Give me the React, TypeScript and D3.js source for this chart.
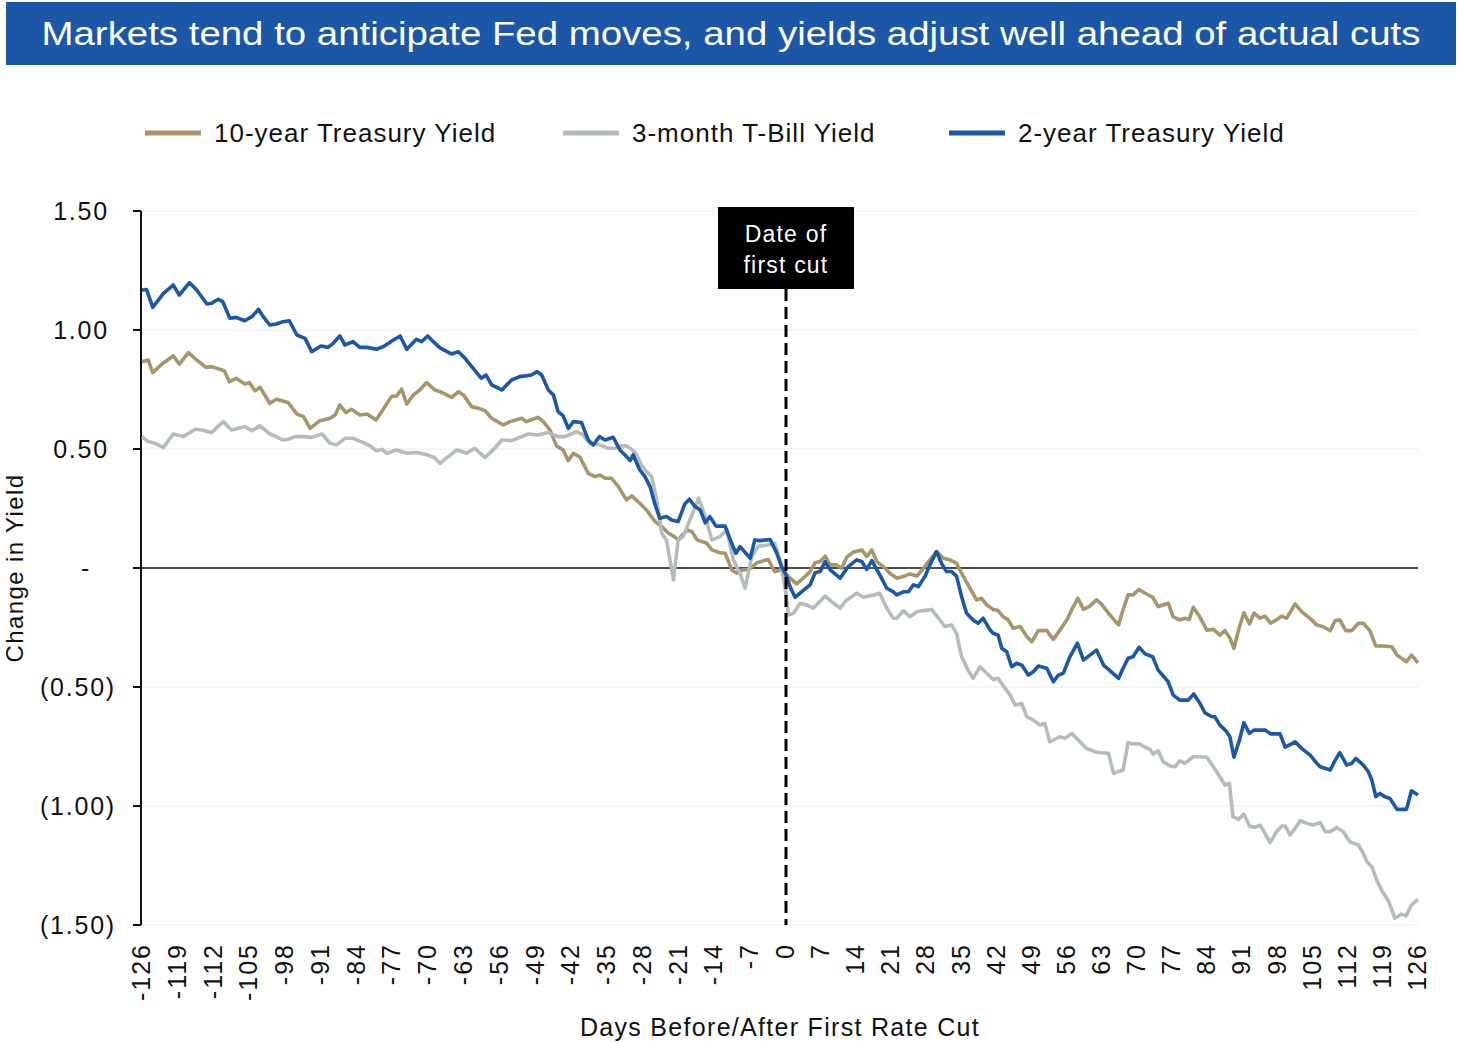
import React from "react";
import * as d3 from "d3";

const TITLE = "Markets tend to anticipate Fed moves, and yields adjust well ahead of actual cuts";
const SERIES_NAMES = ["10-year Treasury Yield", "3-month T-Bill Yield", "2-year Treasury Yield"];
const SERIES_COLORS = ["#A8956A", "#B4BDBC", "#1B58A7"];
const Y_TICKS = [1.5, 1.0, 0.5, 0, -0.5, -1.0, -1.5];
const Y_TICK_LABELS = ["1.50", "1.00", "0.50", "-", "(0.50)", "(1.00)", "(1.50)"];
const X_TICKS = d3.range(-126, 127, 7);

// [day, change in yield]
const tenYear: [number, number][] = [
  [-126,0.867],[-124.8,0.874],[-123.9,0.821],[-122.1,0.857],[-119.9,0.891],[-118.7,0.857],[-116.9,0.905],[-115.3,0.874],[-113.5,0.843],[-112.4,0.846],[-109.9,0.829],[-108.9,0.783],[-107.6,0.797],[-105.9,0.773],[-105,0.779],[-103.9,0.745],[-102.9,0.759],[-101,0.692],[-99.7,0.709],[-97.4,0.695],[-95.7,0.647],[-94.4,0.636],[-93.1,0.587],[-91.2,0.619],[-89.2,0.629],[-88.2,0.643],[-87.3,0.685],[-86.1,0.653],[-85,0.667],[-83.4,0.643],[-82,0.647],[-80.2,0.622],[-78.9,0.664],[-77.2,0.72],[-76.2,0.723],[-75.2,0.751],[-74.2,0.689],[-72.9,0.727],[-71.8,0.745],[-70.3,0.779],[-68.7,0.748],[-67.7,0.741],
  [-65.4,0.717],[-64.1,0.741],[-63.1,0.727],[-61.5,0.678],[-60.2,0.671],[-58.9,0.661],[-57.6,0.629],[-55.3,0.601],[-54,0.615],[-51.7,0.629],[-50.8,0.615],[-49.5,0.625],[-48.5,0.633],[-47.5,0.615],[-46.2,0.58],[-44.9,0.513],[-43.6,0.496],[-42.6,0.451],[-41.6,0.482],[-40.3,0.465],[-38.7,0.398],[-37.4,0.384],[-36.4,0.391],[-35.4,0.377],[-34.1,0.377],[-32.8,0.342],[-31.2,0.286],[-30.2,0.303],[-28.6,0.272],[-27.3,0.244],[-25.6,0.195],[-24.3,0.174],[-23,0.146],[-22,0.134],[-21.1,0.118],[-19.4,0.16],[-18.4,0.153],[-17.4,0.118],[-15.5,0.104],[-14.5,0.076],[-12.9,0.064],[-11.9,0.062],[-10.6,-0.008],[-9.6,-0.022],[-8.3,-0.006],[-7.3,-0.008],[-5.7,0.022],
  [-3.5,0.036],[-2.2,-0.015],[-0.85,-0.008],[0.5,-0.036],[2.1,-0.067],[3.4,-0.043],[4.8,-0.015],[5.8,0.022],[6.8,0.027],[7.8,0.05],[8.8,0.013],[10.1,0.013],[11.1,-0.001],[12.1,0.045],[13.4,0.066],[15.1,0.076],[16.1,0.048],[17.1,0.076],[18.1,0.027],[19.4,0.006],[20.7,-0.022],[22.1,-0.043],[23.4,-0.036],[24.7,-0.025],[26.1,-0.034],[27.4,-0.001],[28.7,0.034],[30,0.069],[31.4,0.041],[32.7,0.034],[34,0.02],[35,-0.022],[36.3,-0.071],[38,-0.134],[39,-0.127],[40,-0.155],[41.3,-0.174],[42.3,-0.179],[43.3,-0.205],[44.3,-0.218],[45.3,-0.253],[46.7,-0.246],[48,-0.288],[49,-0.31],[50.3,-0.263],[52,-0.263],[53.3,-0.3],[54.6,-0.261],[56,-0.218],[57,-0.174],[58.2,-0.127],[59.3,-0.174],[60.6,-0.16],[61.9,-0.134],[62.8,-0.15],
  [64.3,-0.19],[66.3,-0.239],[67.2,-0.176],[68.2,-0.113],[69.2,-0.113],[70.4,-0.09],[71.6,-0.106],[73.1,-0.123],[74.2,-0.162],[76.2,-0.148],[77.2,-0.205],[78.5,-0.218],[79.5,-0.211],[80.4,-0.216],[81.2,-0.165],[82.5,-0.205],[83.9,-0.261],[85.2,-0.258],[86.5,-0.282],[87.5,-0.263],[88.5,-0.295],[89.3,-0.337],[90.4,-0.247],[91.3,-0.188],[92.4,-0.235],[93.3,-0.19],[94.5,-0.211],[95.5,-0.202],[96.6,-0.232],[97.8,-0.218],[98.8,-0.202],[99.8,-0.211],[101.5,-0.151],[102.8,-0.183],[104.8,-0.218],[105.8,-0.239],[107.1,-0.247],[108.5,-0.263],[109.5,-0.221],[110.4,-0.218],[111.6,-0.263],[112.8,-0.263],[114.1,-0.232],[115.1,-0.232],[116.4,-0.263],[117.6,-0.328],[119.1,-0.328],[120.8,-0.331],[121.8,-0.366],[123.7,-0.394],[124.7,-0.366],[126,-0.398],
];

const threeMonth: [number, number][] = [
  [-126,0.552],[-124.8,0.531],[-123.5,0.524],[-121.8,0.507],[-119.9,0.563],[-117.9,0.552],[-115.6,0.583],[-114.3,0.58],[-112.4,0.569],[-110.1,0.615],[-108.5,0.58],[-105.9,0.594],[-104.5,0.577],[-102.9,0.597],[-101,0.563],[-99.7,0.552],[-98.5,0.538],[-97.4,0.541],[-96.1,0.552],[-94.4,0.552],[-92.8,0.549],[-90.8,0.563],[-89.2,0.524],[-87.9,0.517],[-86.3,0.545],[-84.7,0.545],[-82.7,0.527],[-81.4,0.513],[-80.1,0.493],[-79.1,0.499],[-78.1,0.482],[-76.2,0.496],[-74.2,0.482],[-72.3,0.485],[-70.3,0.476],[-68.9,0.465],
  [-67.7,0.44],[-66.1,0.468],[-64.4,0.496],[-62.5,0.482],[-60.9,0.503],[-58.9,0.465],[-57.3,0.496],[-55.6,0.538],[-53.7,0.535],[-51.7,0.552],[-50.4,0.563],[-48.5,0.559],[-46.5,0.569],[-44.6,0.552],[-43.3,0.552],[-42,0.563],[-41,0.573],[-39.7,0.559],[-38.4,0.524],[-36.4,0.517],[-34.8,0.503],[-33.5,0.503],[-32.2,0.513],[-31.2,0.513],[-30.2,0.499],[-29.2,0.475],[-28.3,0.433],[-27.3,0.405],[-26.3,0.384],[-25.3,0.286],[-24.3,0.146],[-23.4,0.118],[-22,-0.05],[-21.1,0.118],[-20.1,0.132],[-18.8,0.202],[-17.1,0.293],[-15.8,0.216],[-14.5,0.118],[-12.9,0.132],[-11.6,0.16],[-10.3,0.034],[-9,-0.022],[-8,-0.085],[-6.7,0.047],[-5.4,0.092],
  [-3.5,0.097],[-2.2,0.104],[-1.2,0.034],[-0.2,-0.078],[0.5,-0.197],[1.5,-0.19],[2.8,-0.148],[4.1,-0.155],[5.4,-0.169],[6.4,-0.148],[7.8,-0.118],[9.1,-0.141],[10.8,-0.169],[12.1,-0.134],[14.1,-0.106],[15.4,-0.123],[17.4,-0.113],[18.7,-0.106],[20.1,-0.169],[21.4,-0.211],[22.1,-0.211],[23.4,-0.179],[24.7,-0.205],[26.1,-0.184],[27.4,-0.179],[29,-0.174],[30.4,-0.211],[31.7,-0.246],[33,-0.239],[34,-0.274],[35,-0.373],[36.3,-0.429],[37.3,-0.464],[38.7,-0.415],[40,-0.442],[41.3,-0.468],[42.3,-0.464],[43.7,-0.506],[44.7,-0.534],[45.7,-0.576],[47,-0.569],[48,-0.625],[49.3,-0.639],[50.6,-0.66],[51.6,-0.653],[52.6,-0.73],[54.6,-0.709],[55.6,-0.716],[57,-0.695],[58.6,-0.73],[59.9,-0.758],[61.6,-0.772],
  [62.9,-0.776],[64.3,-0.779],[65.3,-0.863],[67.2,-0.849],[68.2,-0.734],[69.2,-0.739],[70.4,-0.739],[71.6,-0.753],[72.6,-0.762],[73.2,-0.782],[74.2,-0.768],[75.2,-0.814],[76.6,-0.832],[77.6,-0.835],[78.5,-0.81],[79.5,-0.821],[81.2,-0.793],[82.5,-0.793],[83.9,-0.795],[85.2,-0.835],[86.5,-0.877],[87.5,-0.912],[88.4,-0.905],[89.1,-1.045],[90.2,-1.056],[91.3,-1.034],[92.4,-1.084],[93.5,-1.09],[94.5,-1.08],[95.5,-1.115],[96.5,-1.154],[97.8,-1.108],[98.8,-1.084],[99.5,-1.084],[100.5,-1.122],[101.5,-1.094],[102.5,-1.062],[103.8,-1.073],[105.1,-1.08],[106.5,-1.07],[107.5,-1.108],[108.5,-1.108],[109.8,-1.09],[111.1,-1.108],[112.4,-1.15],[114.1,-1.164],[115.1,-1.199],[115.8,-1.234],[116.8,-1.255],[117.9,-1.318],[119.1,-1.367],[120.1,-1.398],[121.4,-1.472],[122.7,-1.454],[123.6,-1.462],[124.7,-1.416],[126,-1.392],
];

const twoYear: [number, number][] = [
  [-126,1.168],[-125.1,1.17],[-123.9,1.095],[-121.8,1.154],[-119.9,1.189],[-118.7,1.147],[-116.7,1.199],[-115.3,1.168],[-113.3,1.109],[-112.4,1.112],[-111.1,1.129],[-110.2,1.119],[-108.8,1.049],[-107.6,1.053],[-105.9,1.039],[-104.5,1.056],[-103.2,1.087],[-102.3,1.056],[-101,1.021],[-99.7,1.025],[-98.4,1.035],[-97.2,1.039],[-95.7,0.979],[-94.1,0.965],[-92.8,0.909],[-91,0.933],[-89.6,0.927],[-88.6,0.944],[-87.3,0.975],[-86.3,0.937],[-84.7,0.951],[-83.4,0.927],[-82,0.927],[-80.1,0.919],[-78.8,0.93],[-76.8,0.958],[-75.5,0.975],[-74.2,0.919],[-72.3,0.961],[-71.3,0.951],[-70.1,0.975],[-69,0.951],[-67.7,0.925],
  [-65.4,0.899],[-64.1,0.909],[-62.8,0.881],[-61.2,0.839],[-59.6,0.797],[-58.7,0.811],[-57.6,0.769],[-55.6,0.748],[-53.7,0.79],[-52.1,0.804],[-49.8,0.811],[-48.7,0.825],[-47.8,0.811],[-46.5,0.748],[-45.5,0.727],[-44.6,0.657],[-43.6,0.639],[-42.6,0.587],[-41.6,0.615],[-40,0.611],[-38.7,0.538],[-37.7,0.517],[-36.5,0.552],[-35.4,0.538],[-33.8,0.549],[-32.5,0.496],[-31.5,0.475],[-30.5,0.451],[-29.9,0.475],[-28.6,0.412],[-27.6,0.384],[-26.6,0.342],[-25.6,0.265],[-24.7,0.209],[-23.4,0.216],[-22.4,0.202],[-21.1,0.195],[-19.8,0.269],[-18.9,0.289],[-17.8,0.258],[-16.8,0.244],[-15.8,0.19],[-14.9,0.216],[-13.7,0.176],[-11.9,0.176],[-10.9,0.118],[-9.8,0.062],[-9,0.09],[-7,0.041],[-6.1,0.118],
  [-5.1,0.115],[-3.1,0.12],[-1.8,0.062],[-0.85,0.006],[0,-0.029],[0.8,-0.078],[1.8,-0.123],[3.1,-0.1],[4.8,-0.071],[5.8,-0.02],[6.8,-0.015],[7.8,0.027],[8.8,-0.008],[10.8,-0.043],[12.4,0.006],[14.1,0.034],[15.1,0.027],[16.1,-0.006],[17.1,0.031],[18.7,-0.029],[20.1,-0.085],[21.4,-0.1],[22.1,-0.113],[23.4,-0.1],[24.4,-0.1],[25.4,-0.071],[26.4,-0.078],[27.7,-0.036],[29,0.027],[30,0.069],[31,0.02],[32,-0.015],[33,-0.015],[34,-0.034],[35,-0.12],[36,-0.19],[37.3,-0.218],[38.3,-0.232],[39.3,-0.211],[40.7,-0.261],[41.3,-0.274],[42.3,-0.282],[43,-0.337],[44,-0.352],[45,-0.415],[46,-0.4],[47,-0.408],[48.3,-0.45],[49.3,-0.436],[50.3,-0.412],[52,-0.421],[53.3,-0.478],[54.3,-0.45],[55.3,-0.442],[56.6,-0.373],[58.1,-0.316],[59.3,-0.387],[60.6,-0.366],[61.9,-0.345],
  [63.3,-0.408],[64.3,-0.426],[66.3,-0.464],[67.2,-0.421],[68.2,-0.379],[69.2,-0.373],[70.4,-0.333],[71.6,-0.361],[73.1,-0.373],[74.2,-0.429],[76.2,-0.478],[77.2,-0.534],[78.5,-0.555],[80.2,-0.555],[81.3,-0.529],[82.5,-0.568],[83.5,-0.608],[84.9,-0.625],[85.5,-0.625],[86.5,-0.66],[87.7,-0.684],[88.5,-0.709],[89.3,-0.795],[90.4,-0.723],[91.3,-0.65],[92.4,-0.695],[93.3,-0.681],[95.5,-0.681],[96.6,-0.697],[98.5,-0.697],[99.5,-0.753],[100.8,-0.739],[101.5,-0.73],[102.8,-0.758],[104.5,-0.786],[105.8,-0.82],[106.5,-0.835],[108.5,-0.849],[109.5,-0.807],[110.4,-0.776],[111.8,-0.828],[112.8,-0.821],[113.6,-0.8],[115.1,-0.828],[116.1,-0.856],[116.8,-0.891],[117.6,-0.961],[118.4,-0.947],[119.4,-0.961],[120.4,-0.968],[121.8,-1.014],[123.7,-1.014],[124.7,-0.936],[126,-0.954],
];

const SERIES = [tenYear, threeMonth, twoYear];
const FONT = "'Liberation Sans', Arial, Helvetica, sans-serif";

export default function App() {
  const W = 1458, H = 1043;
  const left = 141, right = 1418, top = 211, bottom = 925;
  const x = d3.scaleLinear().domain([-126, 0, 126]).range([142, 786, 1418]);
  const y = d3.scaleLinear().domain([-1.5, 1.5]).range([bottom, top]);
  const line = d3.line<[number, number]>().x(d => x(d[0])).y(d => y(d[1]));
  const legendX = [145, 563, 949];

  return (
    <svg width={W} height={H} viewBox={`0 0 ${W} ${H}`} style={{ position: "absolute", left: 0, top: 0, background: "#fff" }} fontFamily={FONT}>
      <rect x={0} y={0} width={W} height={H} fill="#fff" />
      <rect x={6} y={2} width={1450} height={63} fill="#1B57A6" />
      <text x={731} y={45} textAnchor="middle" fill="#fff" fontSize={33} textLength={1379} lengthAdjust="spacingAndGlyphs">{TITLE}</text>

      {SERIES_NAMES.map((n, i) => (
        <g key={n}>
          <line x1={legendX[i]} x2={legendX[i] + 56} y1={133} y2={133} stroke={SERIES_COLORS[i]} strokeWidth={5} />
          <text x={legendX[i] + 69} y={142} fontSize={26} letterSpacing={1} fill="#111">{n}</text>
        </g>
      ))}

      {Y_TICKS.filter(t => t !== 0).map(t => (
        <line key={"g" + t} x1={left} x2={right} y1={y(t)} y2={y(t)} stroke="#EBEBEB" strokeWidth={1.2} />
      ))}
      <line x1={left} x2={left} y1={top} y2={bottom} stroke="#111" strokeWidth={2} />
      <line x1={left} x2={right} y1={y(0)} y2={y(0)} stroke="#111" strokeWidth={1.6} />
      {Y_TICKS.map((t, i) => {
        const lab = Y_TICK_LABELS[i];
        const anchor = lab === "-" ? "middle" : "end";
        const tx = lab === "-" ? 86 : lab.startsWith("(") ? 116 : 109;
        return (
          <g key={"t" + t}>
            <line x1={left - 8} x2={left} y1={y(t)} y2={y(t)} stroke="#111" strokeWidth={2} />
            <text x={tx} y={y(t)} dy="0.36em" textAnchor={anchor} fontSize={25} letterSpacing={1.8} fill="#111">{lab}</text>
          </g>
        );
      })}
      <text transform={`translate(23,${y(0)}) rotate(-90)`} textAnchor="middle" fontSize={24} letterSpacing={1.4} fill="#111">Change in Yield</text>

      {X_TICKS.map(t => (
        <text key={"x" + t} transform={`translate(${x(t) - 1},943) rotate(-90)`} textAnchor="end" dy="0.36em" fontSize={25} letterSpacing={2} fill="#111">{t}</text>
      ))}
      <text x={780} y={1036} textAnchor="middle" fontSize={25} letterSpacing={1.3} fill="#111">Days Before/After First Rate Cut</text>

      {SERIES.map((s, i) => (
        <path key={"s" + i} d={line(s) || ""} fill="none" stroke={SERIES_COLORS[i]} strokeWidth={3.6} strokeLinejoin="round" />
      ))}

      <line x1={x(0)} x2={x(0)} y1={289} y2={bottom} stroke="#000" strokeWidth={3} strokeDasharray="12 6" />
      <rect x={x(0) - 68} y={207} width={136} height={82} fill="#000" />
      <text x={x(0)} y={242} textAnchor="middle" fontSize={23} letterSpacing={1.2} fill="#fff">Date of</text>
      <text x={x(0)} y={273} textAnchor="middle" fontSize={23} letterSpacing={1.2} fill="#fff">first cut</text>
    </svg>
  );
}
